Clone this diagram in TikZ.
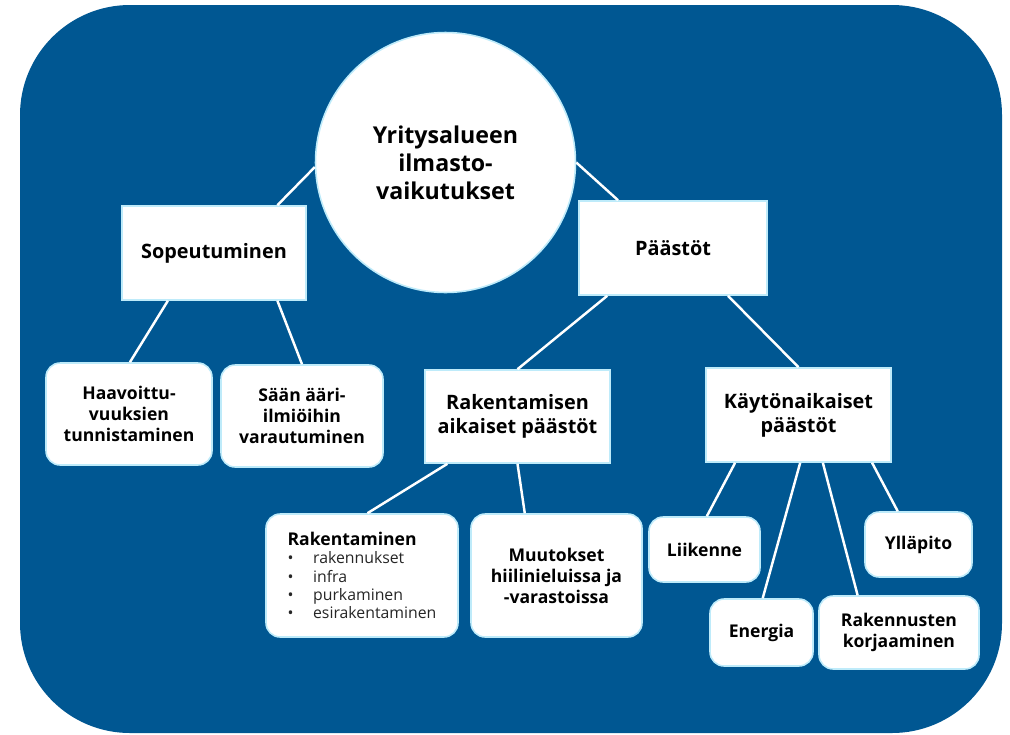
\documentclass[tikz,border=0pt]{standalone}
\usepackage{fontspec}
\setmainfont{Open Sans}
\usetikzlibrary{positioning}
\definecolor{bgblue}{RGB}{0,87,146}
\definecolor{edgecyan}{RGB}{190,235,250}
\newcommand{\rakitem}[1]{{\fontsize{9}{10.4}\selectfont\mdseries\color{black!85}\makebox[14.5pt][l]{\textbullet}#1}}
\tikzset{
    link/.style={white, line width=1.4pt},
    box/.style={draw=edgecyan, fill=white, line width=0.9pt, align=center, inner sep=2pt, font=\fontsize{11.3}{13.7}\selectfont\bfseries},
    leaf/.style={box, rounded corners=8pt, font=\fontsize{10}{12}\selectfont\bfseries},
    hub/.style={draw=edgecyan, fill=white, line width=0.9pt, circle, minimum size=5.2cm, align=center, font=\fontsize{13.2}{16}\selectfont\bfseries}
}

\begin{document}
\begin{tikzpicture}[x=0.02cm, y=-0.02cm]
    \useasboundingbox (0,0) rectangle (1010,734);
    \fill[bgblue, rounded corners=2.2cm] (20,5) rectangle (1002,733);

    \node[hub] (circ) at (445.5,162.5) {Yritysalueen\\ilmasto-\\vaikutukset};
    \node[box, minimum width=3.68cm, minimum height=1.88cm] (sop) at (214,253) {Sopeutuminen};
    \node[box, minimum width=3.76cm, minimum height=1.88cm] (paast) at (673,248) {Päästöt};
    \node[leaf, minimum width=3.32cm, minimum height=2.04cm] (haav) at (129,414) {Haavoittu-\\vuuksien\\tunnistaminen};
    \node[leaf, minimum width=3.24cm, minimum height=2.04cm] (saan) at (302,416) {Sään ääri-\\ilmiöihin\\varautuminen};
    \node[box, minimum width=3.7cm, minimum height=1.86cm] (rakaik) at (517.5,416.5) {Rakentamisen\\aikaiset päästöt};
    \node[box, minimum width=3.7cm, minimum height=1.88cm] (kay) at (798.5,415) {Käytönaikaiset\\päästöt};
    \node[leaf, minimum width=3.84cm, minimum height=2.46cm, align=left] (rak) at (362,575.5)
        {Rakentaminen\\[-1.6pt]
         \rakitem{rakennukset}\\[-1.6pt]
         \rakitem{infra}\\[-1.6pt]
         \rakitem{purkaminen}\\[-1.6pt]
         \rakitem{esirakentaminen}};
    \node[leaf, minimum width=3.42cm, minimum height=2.46cm] (muut) at (556.5,575.5) {Muutokset\\hiilinieluissa ja\\-varastoissa};
    \node[leaf, minimum width=2.22cm, minimum height=1.3cm] (liik) at (704.5,549.5) {Liikenne};
    \node[leaf, minimum width=2.14cm, minimum height=1.3cm] (yll) at (918.5,544.5) {Ylläpito};
    \node[leaf, minimum width=2.06cm, minimum height=1.34cm] (ener) at (761.5,632.5) {Energia};
    \node[leaf, minimum width=3.2cm, minimum height=1.46cm] (rakk) at (899,632.5) {Rakennusten\\korjaaminen};

    \draw[link] (circ.182) -- (sop.37);
    \draw[link] (circ.0) -- (paast.139);
    \draw[link] (sop.226) -- (haav.89);
    \draw[link] (sop.-37) -- (saan.north);
    \draw[link] (paast.216) -- (rakaik.north);
    \draw[link] (paast.-41) -- (kay.north);
    \draw[link] (rakaik.214) -- (rak.85);
    \draw[link] (rakaik.south) -- (muut.117);
    \draw[link] (kay.217) -- (liik.86);
    \draw[link] (kay.-88) -- (ener.88);
    \draw[link] (kay.-63) -- (rakk.138);
    \draw[link] (kay.-33) -- (yll.122);
\end{tikzpicture}
\end{document}
